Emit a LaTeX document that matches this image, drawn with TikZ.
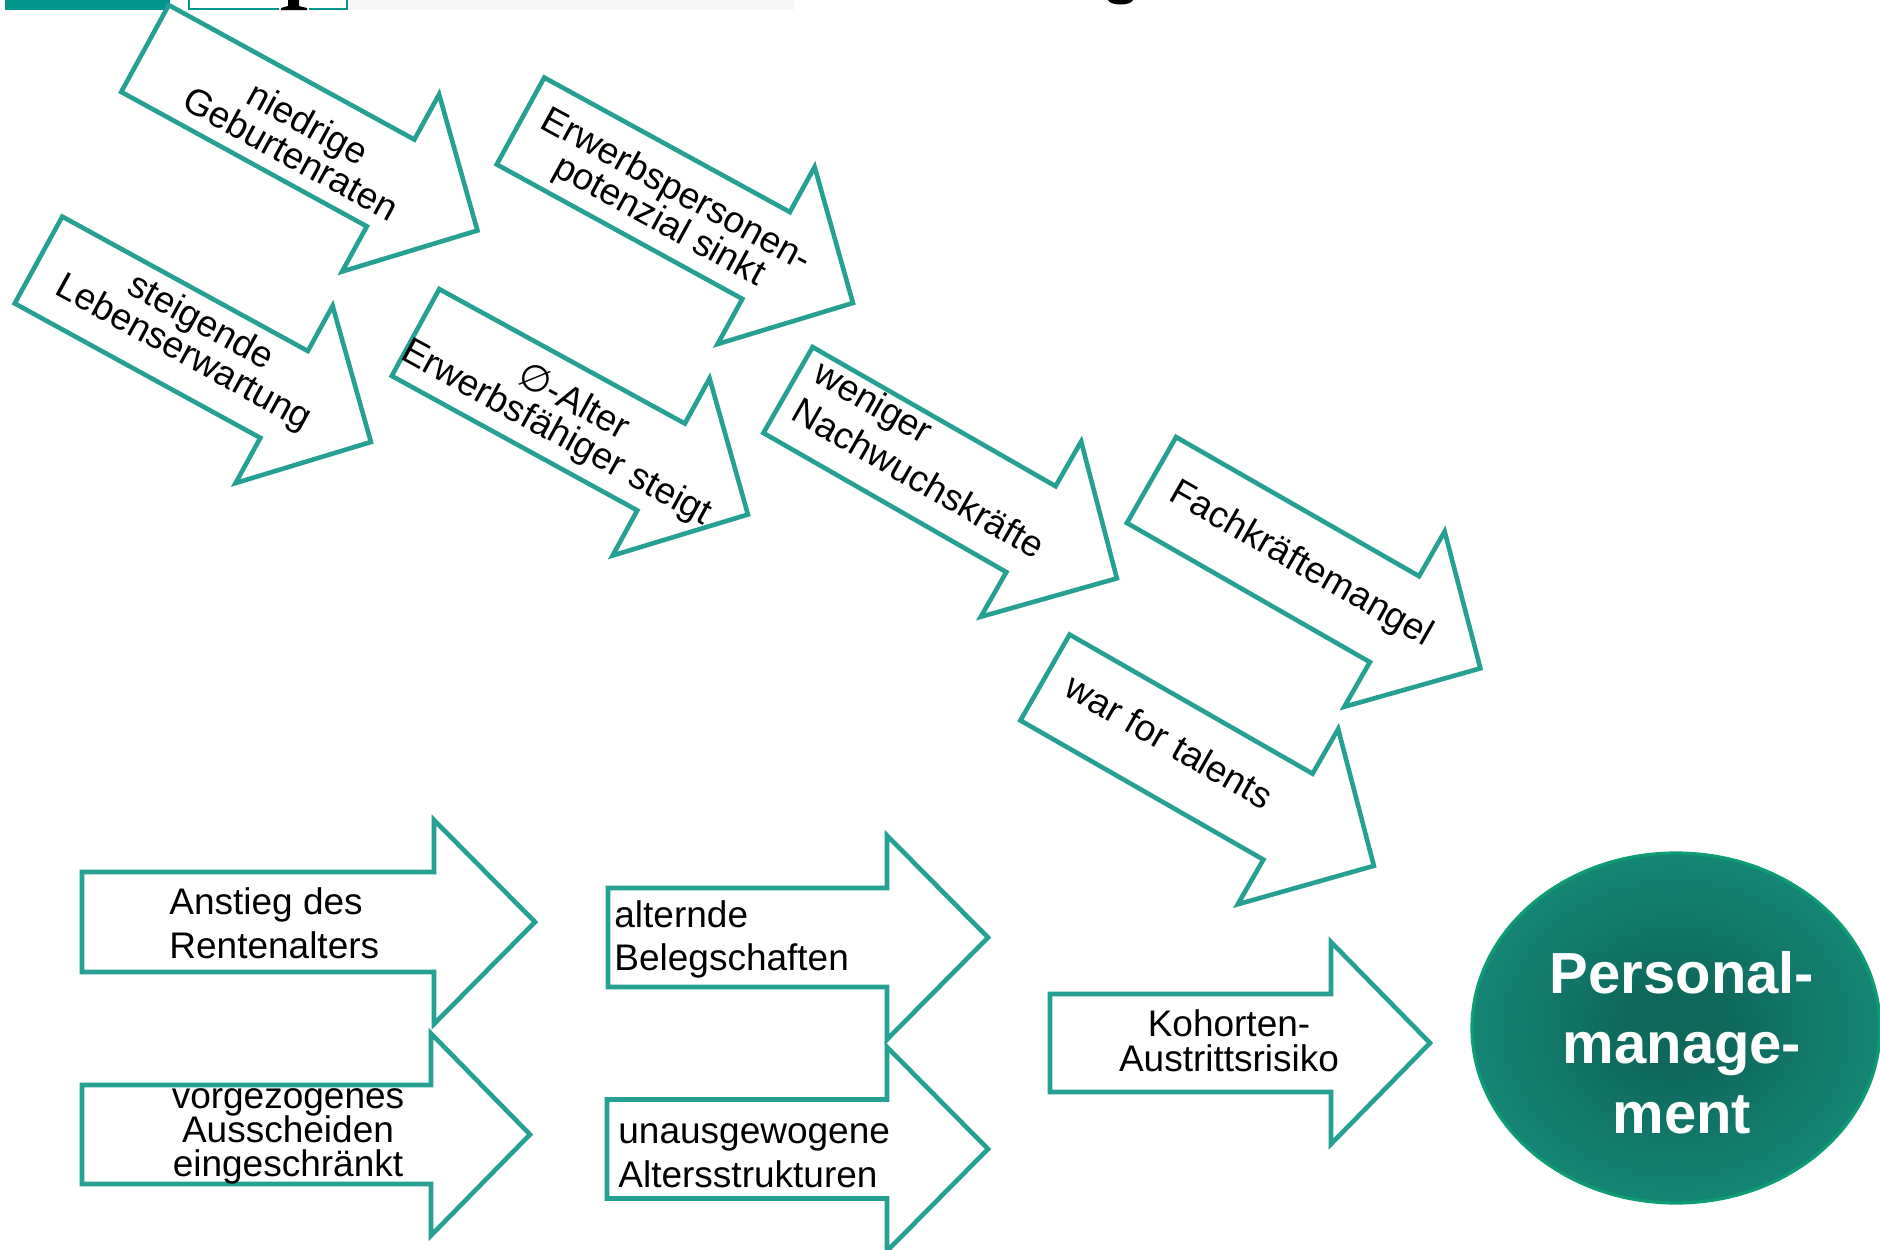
\documentclass[tikz,border=0pt]{standalone}
\usepackage{fontspec}
\setmainfont{Liberation Sans}
\newfontfamily\symfont{DejaVu Sans}
\usetikzlibrary{shapes.geometric}
\definecolor{arrteal}{RGB}{38,160,146}
\definecolor{hdrteal}{RGB}{0,150,140}
\definecolor{pmctr}{RGB}{14,104,92}
\definecolor{pmedge}{RGB}{24,150,133}
\definecolor{pmrim}{RGB}{14,156,116}
\pgfdeclareradialshading{pmshade}{\pgfpoint{0bp}{0bp}}{color(0bp)=(pmctr); color(6bp)=(pmctr); color(36bp)=(pmedge); color(50bp)=(pmedge)}
\newcommand\stkl[2]{\vtop{\baselineskip=#1\relax\lineskiplimit=-100pt\lineskip=0pt\halign{##\hfil\cr#2\crcr}}}
\newcommand\stkc[2]{\vtop{\baselineskip=#1\relax\lineskiplimit=-100pt\lineskip=0pt\halign{\hfil##\hfil\cr#2\crcr}}}
\newcommand\arrdraw[4]{\draw[arrline] (0,-#3) -- (#1,-#3) -- (#1,-#4) -- ({#1+#2},0) -- (#1,#4) -- (#1,#3) -- (0,#3) -- cycle;}
\newcommand\slarrow[8]{\begin{scope}[shift={(#2,#3)},rotate=-#4]\arrdraw{280}{99}{49.5}{101}\node[txt,transform shape,anchor=#5] (#1) at (#6,#7) {#8};\end{scope}}
\newcommand\harrow[6]{\begin{scope}[shift={(#1,#2)}]\arrdraw{#3}{#4}{#5}{#6}\end{scope}}
\tikzset{
  arrline/.style={draw=arrteal, line width=2.3pt, fill=white, line join=miter},
  txt/.style={inner sep=0pt, font=\fontsize{18.5}{22}\selectfont, text=black}
}
\begin{document}
\begin{tikzpicture}[x=0.5pt,y=-0.5pt]
\useasboundingbox (0,0) rectangle (1880,1249);
\fill[white] (0,0) rectangle (1880,1249);
% cropped header fragments
\fill[hdrteal] (5,0) rectangle (170,10);
\fill[black!3] (348,0) rectangle (794,10);
\draw[hdrteal, line width=1pt] (189,-2) -- (189,9) -- (347,9) -- (347,-2);
\fill[white] (279,0) rectangle (309,11);
\fill[black] (288,0) -- (299,0) -- (299,6) -- (307,8) -- (307,10) -- (281,10) -- (281,8) -- (288,6) -- cycle;
\fill[black] (1108,0) .. controls (1110,6) and (1131,6) .. (1133,0) -- cycle;
% slanted arrows
\slarrow{niedrig}{145}{48.5}{28.7}{base}{179}{0}{\stkc{17.5pt}{niedrige\cr Geburtenraten}}
\slarrow{steigend}{38.5}{260}{28.7}{base}{172}{-12.7}{\stkc{17.5pt}{steigende\cr Lebenserwartung}}
\slarrow{erwerb}{520.5}{121}{28.7}{base}{170}{-3.4}{\stkc{17.5pt}{Erwerbspersonen-\cr potenzial sinkt}}
\slarrow{alter}{415.5}{332.5}{28.7}{base}{172}{-3.9}{\stkc{17.5pt}{{\symfont ∅}-Alter\cr Erwerbsfähiger steigt}}
\slarrow{wenig}{788}{390}{29.8}{base west}{15}{-19.5}{\stkl{22pt}{weniger\cr Nachwuchskräfte}}
\slarrow{fach}{1151.5}{480}{29.8}{base}{172}{9}{Fachkräftemangel}
\slarrow{war}{1045}{677.5}{29.8}{base west}{23}{6.5}{war for talents}
% horizontal arrows
\harrow{82}{922}{352}{101}{50}{102}
\node[txt, anchor=base west] (anstieg) at (169,914) {\stkl{22pt}{Anstieg des\cr Rentenalters}};
\harrow{82}{1134.5}{349}{99}{49.5}{101}
\node[txt, anchor=base] (vorgez) at (288,1108) {\stkc{17pt}{vorgezogenes\cr Ausscheiden\cr eingeschränkt}};
\harrow{608}{937.5}{279}{101}{49.5}{102}
\node[txt, anchor=base west] (alternd) at (614,927) {\stkl{21.7pt}{alternde\cr Belegschaften}};
\harrow{607}{1149}{280}{101}{49.5}{102}
\node[txt, anchor=base west] (unausg) at (618,1143) {\stkl{22pt}{unausgewogene\cr Altersstrukturen}};
\harrow{1050}{1043}{281}{99}{49}{101}
\node[txt, anchor=base] (kohort) at (1229,1036) {\stkc{17.5pt}{Kohorten-\cr Austrittsrisiko}};
% Personalmanagement ellipse
\node[ellipse, draw=pmrim, line width=1.6pt, shade, shading=pmshade, minimum width=204pt, minimum height=175pt, inner sep=0pt] (pm) at (1676,1028) {};
\node[inner sep=0pt, anchor=base, text=white, font=\fontsize{29}{35}\selectfont\bfseries] (pmtext) at (1682,993) {\stkc{35pt}{Personal-\cr manage-\cr ment}};
\end{tikzpicture}
\end{document}
